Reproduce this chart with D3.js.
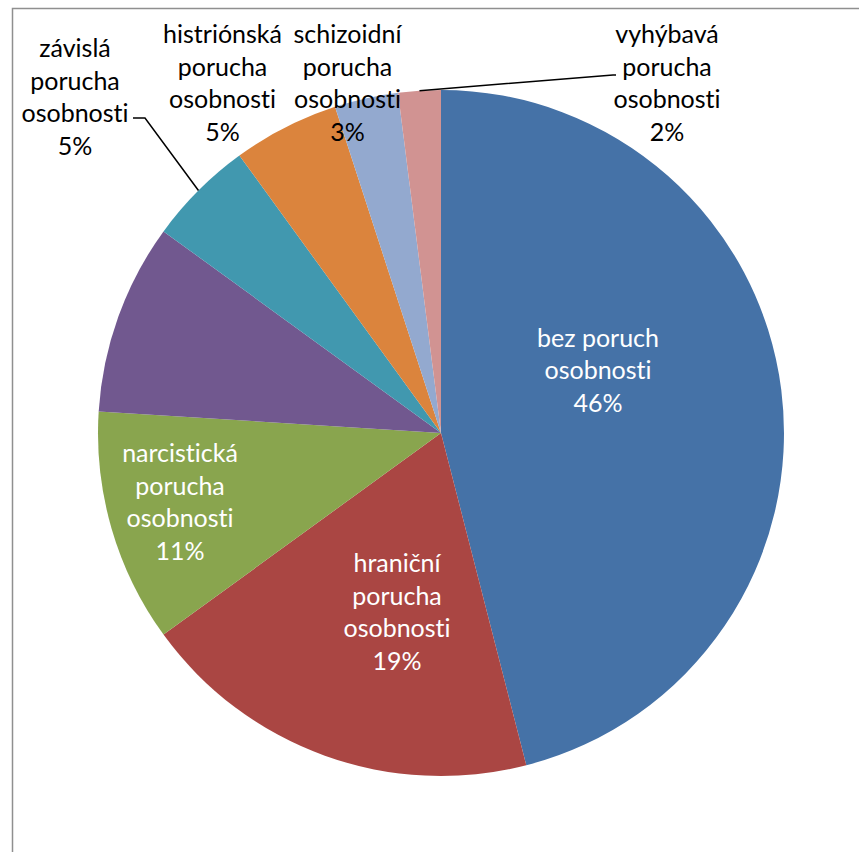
<!DOCTYPE html>
<html>
<head>
<meta charset="utf-8">
<script src="https://cdn.jsdelivr.net/npm/d3@7"></script>
<style>
  html, body { margin: 0; padding: 0; background: #fff; }
  svg { display: block; }
  text { font-variant-ligatures: none; font-feature-settings: "liga" 0, "clig" 0; }
</style>
</head>
<body>
<svg id="chart" width="859" height="852"></svg>
<script>
// Personality-disorder shares (percent), slices run clockwise from 12 o'clock
const categories = [
  "bez poruch osobnosti",
  "hraniční porucha osobnosti",
  "narcistická porucha osobnosti",
  "ostatní",
  "závislá porucha osobnosti",
  "histriónská porucha osobnosti",
  "schizoidní porucha osobnosti",
  "vyhýbavá porucha osobnosti"
];
const shares = [46, 19, 11, 9, 5, 5, 3, 2];
const labelLines = [
  ["bez poruch", "osobnosti"],
  ["hraniční", "porucha", "osobnosti"],
  ["narcistická", "porucha", "osobnosti"],
  null,
  ["závislá", "porucha", "osobnosti"],
  ["histriónská", "porucha", "osobnosti"],
  ["schizoidní", "porucha", "osobnosti"],
  ["vyhýbavá", "porucha", "osobnosti"]
];
const colors = ["#4572A7", "#AA4643", "#89A54E", "#71588F", "#4198AF", "#DB843D", "#93A9CF", "#D19392"];

// Layout: pie geometry and label placement (offsets from the pie centre)
const cx = 441, cy = 433, radius = 343;
const lineHeight = 32.5;
const labelLayout = [
  { x: 157,    y: -86.5, fill: "#fff" },
  { x: -44,    y: 139,   fill: "#fff" },
  { x: -261,   y: 29,    fill: "#fff" },
  null,
  { x: -366,   y: -376,  fill: "#000", leader: [[-296, -315], [-308, -315]] },
  { x: -218.5, y: -390,  fill: "#000" },
  { x: -93.5,  y: -390,  fill: "#000" },
  { x: 226,    y: -390,  fill: "#000", leader: [[172, -358], [175, -358]] }
];

const svg = d3.select("#chart");

// Chart-area frame
svg.append("path")
  .attr("d", "M12.5,852 V8.5 H859")
  .attr("fill", "none")
  .attr("stroke", "#8f8f8f")
  .attr("stroke-width", 1.5);

const g = svg.append("g").attr("transform", `translate(${cx},${cy})`);

const pie = d3.pie().sort(null).value(d => d)(shares);
const arc = d3.arc().innerRadius(0).outerRadius(radius);
const rimArc = d3.arc().innerRadius(radius).outerRadius(radius);

g.selectAll("path.slice")
  .data(pie)
  .join("path")
  .attr("class", "slice")
  .attr("d", arc)
  .attr("fill", (d, i) => colors[i]);

// Leader lines from slice rim to the outside labels
pie.forEach((d, i) => {
  const lay = labelLayout[i];
  if (!lay || !lay.leader) return;
  const pts = [rimArc.centroid(d), ...lay.leader];
  g.append("path")
    .attr("d", d3.line()(pts))
    .attr("fill", "none")
    .attr("stroke", "#000")
    .attr("stroke-width", 1.5);
});

// Data labels: category name + percentage
pie.forEach((d, i) => {
  const lay = labelLayout[i];
  if (!lay || !labelLines[i]) return;
  const lines = [...labelLines[i], d3.format(".0f")(shares[i]) + "%"];
  const t = g.append("text")
    .attr("text-anchor", "middle")
    .attr("font-family", "Lato, 'Open Sans', sans-serif")
    .attr("font-size", 25)
    .attr("fill", lay.fill);
  lines.forEach((ln, k) => {
    t.append("tspan")
      .attr("x", lay.x)
      .attr("y", lay.y + k * lineHeight)
      .text(ln);
  });
});
</script>
</body>
</html>
